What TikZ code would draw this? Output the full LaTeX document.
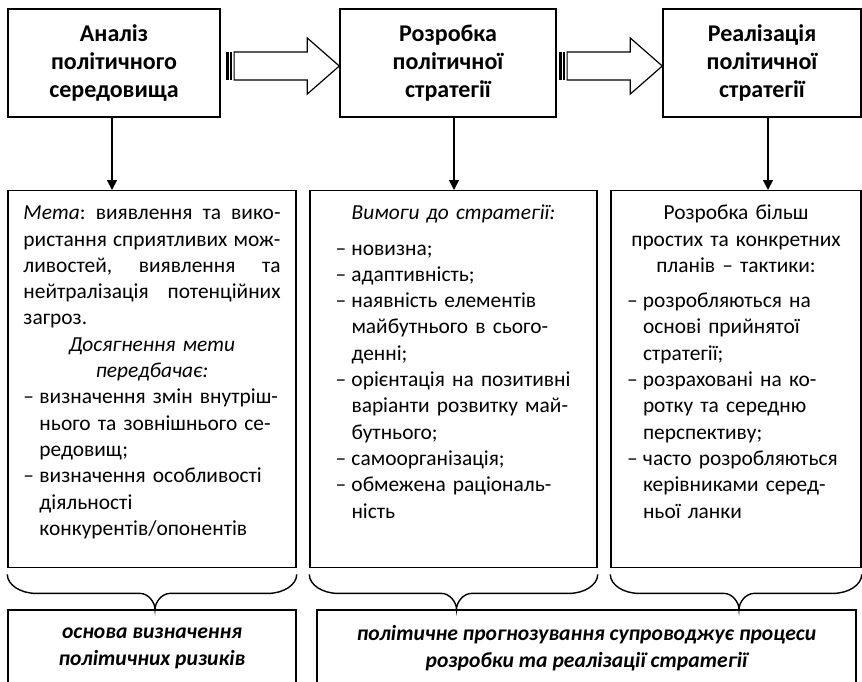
\documentclass[tikz,border=0pt]{standalone}
\usepackage{fontspec}
\setmainfont{Carlito}
\usetikzlibrary{arrows.meta,calc,positioning}
\tikzset{
  stagebox/.style={draw,line width=0.7pt,align=center,inner sep=0pt,minimum height=54pt,
    font=\fontsize{12}{14}\selectfont\bfseries},
  infobox/.style={draw,line width=0.7pt,align=left,inner sep=0pt,anchor=north,
    text height=14.5pt,text depth=174pt,font=\fontsize{10.7}{13.15}\selectfont},
  resultbox/.style={draw,line width=0.7pt,align=center,inner sep=0pt,minimum height=38.5pt,
    font=\fontsize{10.8}{13.5}\selectfont\bfseries\itshape},
  down/.style={line width=0.7pt,-{Triangle[width=5pt,length=5pt]}},
  brace/.style={line width=0.7pt}
}
\newcommand{\dsh}{\makebox[8pt][l]{–}}
\newcommand{\ind}{\hspace*{8pt}}

\begin{document}
\begin{tikzpicture}[x=0.5pt,y=-0.5pt]

\useasboundingbox (0,0) rectangle (862,681);
\clip (0,0) rectangle (862,681);

% stages
\node[stagebox,minimum width=106pt] (analysis) at (114,63) {Аналіз\\політичного\\середовища};
\node[stagebox,minimum width=108pt] (design) at (448,63) {Розробка\\політичної\\стратегії};
\node[stagebox,minimum width=99pt] (realize) at (762,63) {Реалізація\\політичної\\стратегії};

% block arrows between stages
\foreach \a/\b/\s in {analysis/design/2.5pt,design/realize/1pt}{
  \fill let \p1=(\a.east) in (\x1+\s,\y1+5.5pt) rectangle (\x1+\s+1.5pt,\y1-8.5pt);
  \fill let \p1=(\a.east) in (\x1+\s+2.2pt,\y1+5.5pt) rectangle (\x1+\s+3pt,\y1-8.5pt);
  \draw[line width=0.6pt,line join=miter] let \p1=(\a.east), \p2=(\b.west) in
    (\x1+\s+4.2pt,\y1+5.5pt) -- (\x2-16pt,\y1+5.5pt) -- (\x2-16pt,\y1+12.5pt)
    -- (\x2,\y1-1.5pt) -- (\x2-16pt,\y1-15.5pt) -- (\x2-16pt,\y1-8.5pt)
    -- (\x1+\s+4.2pt,\y1-8.5pt) -- cycle;
}

% details
\node[infobox,minimum width=144pt,text width=128.5pt] (goal) at (152,190) {%
\textit{Мета}:\hfill виявлення\hfill та\hfill вико-\\
ристання\hfill сприятливих\hfill мож-\\
ливостей,\hfill виявлення\hfill та\\
нейтралізація\hfill потенційних\\
загроз.\\
\makebox[\linewidth][c]{\textit{Досягнення мети}}\\
\makebox[\linewidth][c]{\textit{передбачає:}}\\
\dsh визначення змін внутріш-\\
\ind нього та зовнішнього се-\\
\ind редовищ;\\
\dsh визначення особливості\\
\ind діяльності\\
\ind конкурентів/опонентів};
\node[infobox,minimum width=143.5pt,text width=118pt] (reqs) at (453.5,190) {%
\makebox[\linewidth][c]{\textit{Вимоги до стратегії:}}\\[4.5pt]
\dsh новизна;\\
\dsh адаптивність;\\
\dsh наявність елементів\\
\ind майбутнього в сього-\\
\ind денні;\\
\dsh орієнтація на позитивні\\
\ind варіанти розвитку май-\\
\ind бутнього;\\
\dsh самоорганізація;\\
\dsh обмежена раціональ-\\
\ind ність};
\node[infobox,minimum width=125pt,text width=109pt] (tactics) at (736,190) {%
\makebox[\linewidth][c]{Розробка більш}\\
\makebox[\linewidth][c]{простих та конкретних}\\
\makebox[\linewidth][c]{планів – тактики:}\\[4.5pt]
\dsh розробляються на\\
\ind основі прийнятої\\
\ind стратегії;\\
\dsh розраховані на ко-\\
\ind ротку та середню\\
\ind перспективу;\\
\dsh часто розробляються\\
\ind керівниками серед-\\
\ind ньої ланки};

% down arrows
\coordinate (d1) at ([xshift=-1pt]analysis.south);
\coordinate (d2) at ([xshift=3pt]design.south);
\coordinate (d3) at ([xshift=3pt]realize.south);
\draw[down] (d1) -- (d1 |- goal.north);
\draw[down] (d2) -- (d2 |- reqs.north);
\draw[down] (d3) -- (d3 |- tactics.north);

% results
\node[resultbox,minimum width=144pt] (risks) at (152,648.5) {основа визначення\\політичних ризиків};
\node[resultbox,minimum width=269.5pt] (forecast) at (586.5,648.5) {політичне прогнозування супроводжує процеси\\розробки та реалізації стратегії};

% braces
\foreach \nd in {goal,reqs,tactics}{
  \draw[brace] let \p1=(\nd.south west), \p2=(\nd.south east), \p3=(\nd.south) in
    (\x1,\y1-3pt) .. controls (\x1,\y1-8.2pt) and (\x1+6.5pt,\y1-12.5pt) .. (\x1+14.5pt,\y1-12.5pt)
    -- (\x3-6pt,\y1-12.5pt) .. controls (\x3-1.9pt,\y1-12.5pt) and (\x3+1.5pt,\y1-16.9pt) .. (\x3+1.5pt,\y1-20.5pt)
    .. controls (\x3+1.5pt,\y1-16.9pt) and (\x3+4.9pt,\y1-12.5pt) .. (\x3+9pt,\y1-12.5pt)
    -- (\x2-14.5pt,\y1-12.5pt) .. controls (\x2-6.5pt,\y1-12.5pt) and (\x2,\y1-8.2pt) .. (\x2,\y1-3pt);
}

\end{tikzpicture}
\end{document}
